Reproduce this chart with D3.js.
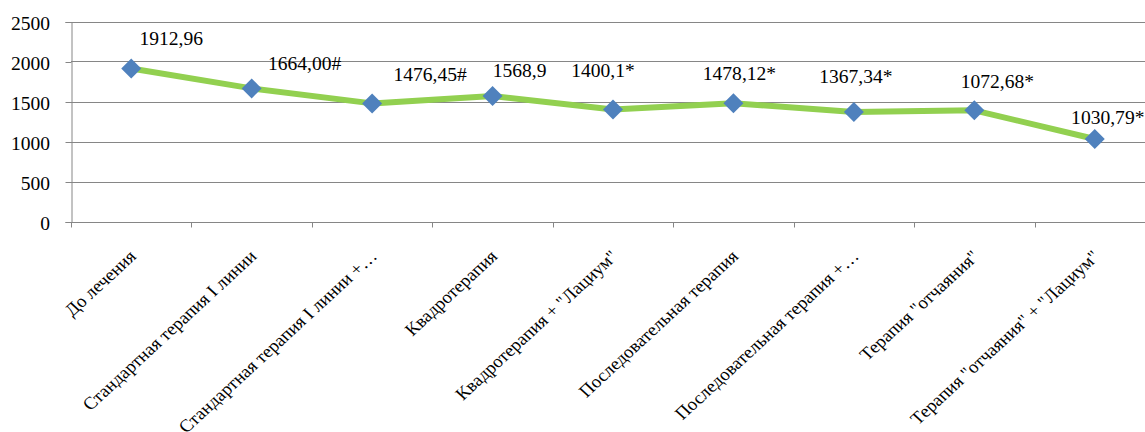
<!DOCTYPE html>
<html>
<head>
<meta charset="utf-8">
<script src="https://cdn.jsdelivr.net/npm/d3@7"></script>
<style>
  body { margin: 0; background: #fff; }
  svg { display: block; }
</style>
</head>
<body>
<svg id="chart" width="1145" height="432"></svg>
<script>
// Chart data
const categories = [
  "До лечения",
  "Стандартная терапия I линии",
  "Стандартная терапия I линии +…",
  "Квадротерапия",
  "Квадротерапия + \"Лациум\"",
  "Последовательная терапия",
  "Последовательная терапия +…",
  "Терапия \"отчаяния\"",
  "Терапия \"отчаяния\" + \"Лациум\""
];
const values = [1912.96, 1664.00, 1476.45, 1568.9, 1400.1, 1478.12, 1367.34, 1390, 1030.79];
const valueLabels = ["1912,96", "1664,00#", "1476,45#", "1568,9", "1400,1*", "1478,12*", "1367,34*", "1072,68*", "1030,79*"];
const yTicks = [0, 500, 1000, 1500, 2000, 2500];

// Layout
const W = 1145, H = 432;
const plotLeft = 71, plotRight = 1155, plotTop = 21.5, plotBottom = 221.5;
const stretch = 1.087;           // horizontal text widening
const fontFamily = "'Liberation Serif', 'Times New Roman', 'DejaVu Serif', serif";
const lineColor = "#92D050";
const markerColor = "#4F81BD";
const gridColor = "#868686";

// Where each value label sits relative to its marker (label centre)
const labelOffsets = [[40, -30], [53, -25], [58, -29], [27, -25], [-10, -39], [6, -30], [2, -35], [23, -29], [13, -21]];

const svg = d3.select("#chart")
  .attr("font-family", fontFamily)
  .style("font-family", fontFamily);

const x = d3.scaleBand().domain(categories).range([plotLeft, plotRight]);
const y = d3.scaleLinear().domain([0, 2500]).range([plotBottom, plotTop]);
const cx = c => x(c) + x.bandwidth() / 2;

// Horizontal gridlines
svg.append("g")
  .selectAll("line")
  .data(yTicks)
  .join("line")
  .attr("x1", plotLeft).attr("x2", W)
  .attr("y1", d => Math.round(y(d)) + 0.5)
  .attr("y2", d => Math.round(y(d)) + 0.5)
  .attr("stroke", gridColor)
  .attr("stroke-width", 1);

// Value axis
const yAxis = svg.append("g")
  .attr("transform", `translate(${plotLeft + 0.5},0.5)`)
  .call(d3.axisLeft(y).tickValues(yTicks).tickSize(6).tickPadding(0).tickFormat(d3.format("d")));
yAxis.select(".domain").attr("stroke", gridColor);
yAxis.selectAll(".tick line").attr("stroke", gridColor);
yAxis.selectAll(".tick text").remove();
svg.append("g")
  .selectAll("text")
  .data(yTicks)
  .join("text")
  .attr("transform", d => `translate(50,${y(d) + 2}) scale(${stretch},1)`)
  .attr("text-anchor", "end")
  .attr("dy", "0.35em")
  .style("font-family", fontFamily)
  .style("font-size", "18px")
  .text(d3.format("d"));

// Category axis: baseline plus boundary ticks between categories
const bounds = categories.map(c => x(c)).concat([plotRight]);
const xAxis = svg.append("g").attr("transform", "translate(0.5,0.5)");
xAxis.append("line")
  .attr("x1", plotLeft).attr("x2", W)
  .attr("y1", Math.round(plotBottom)).attr("y2", Math.round(plotBottom))
  .attr("stroke", gridColor);
xAxis.selectAll("line.tick")
  .data(bounds)
  .join("line")
  .attr("class", "tick")
  .attr("x1", d => Math.round(d)).attr("x2", d => Math.round(d))
  .attr("y1", Math.round(plotBottom)).attr("y2", Math.round(plotBottom) + 5)
  .attr("stroke", gridColor);

// Rotated category labels
svg.append("g")
  .selectAll("text")
  .data(categories)
  .join("text")
  .attr("transform", d => `translate(${cx(d) + 6},${plotBottom + 36}) scale(${stretch},1) rotate(-45)`)
  .attr("text-anchor", "end")
  .style("font-family", fontFamily)
  .style("font-size", "17.5px")
  .text(d => d);

// Series line
const line = d3.line()
  .x((d, i) => cx(categories[i]))
  .y(d => y(d));
svg.append("path")
  .datum(values)
  .attr("d", line)
  .attr("fill", "none")
  .attr("stroke", lineColor)
  .attr("stroke-width", 6)
  .attr("stroke-linejoin", "round");

// Diamond markers
const diamond = d3.symbol().type(d3.symbolSquare).size(200);
svg.append("g")
  .selectAll("path")
  .data(values)
  .join("path")
  .attr("d", diamond)
  .attr("transform", (d, i) => `translate(${cx(categories[i])},${y(d)}) rotate(45)`)
  .attr("fill", markerColor);

// Value labels
svg.append("g")
  .selectAll("text")
  .data(values)
  .join("text")
  .attr("transform", (d, i) => `translate(${cx(categories[i]) + labelOffsets[i][0]},${y(d) + labelOffsets[i][1]}) scale(${stretch},1)`)
  .attr("text-anchor", "middle")
  .attr("dy", "0.35em")
  .style("font-family", fontFamily)
  .style("font-size", "18px")
  .text((d, i) => valueLabels[i]);
</script>
</body>
</html>
